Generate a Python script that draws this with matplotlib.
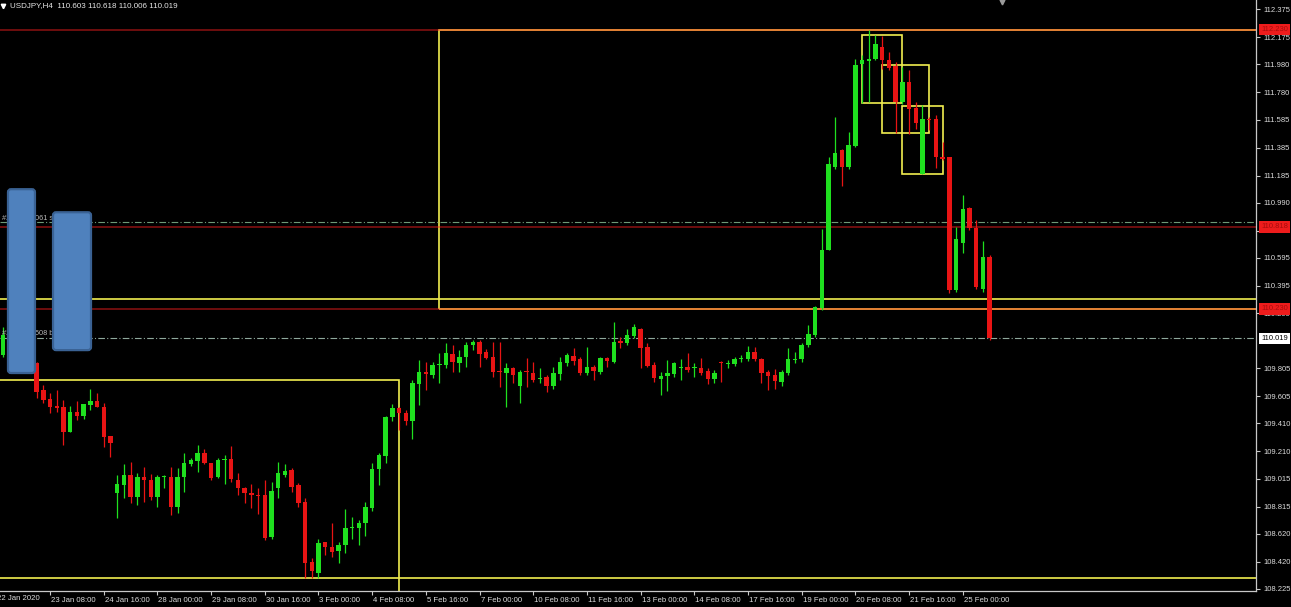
import numpy as np
import matplotlib.pyplot as plt
from matplotlib.patches import Rectangle, FancyBboxPatch
from matplotlib.transforms import blended_transform_factory, ScaledTranslation

plt.rcParams['font.family'] = ['Liberation Sans', 'DejaVu Sans']

# =========================================================
# USDJPY H4 candles (bar 0 = left edge, bar 147 = current bar)
# =========================================================

opens = [
    109.899, 110.043, 110.080, 109.970, 109.940, 109.840, 109.649, 109.582, 109.534, 109.530,
    109.351, 109.494, 109.463, 109.542, 109.573, 109.530, 109.320, 108.910, 108.969, 109.041,
    108.886, 109.029, 109.005, 108.886, 109.024, 109.029, 108.814, 109.024, 109.119, 109.143,
    109.201, 109.129, 109.024, 109.148, 109.153, 109.005, 108.945, 108.914, 108.898, 108.898,
    108.600, 108.945, 109.041, 109.077, 108.969, 108.850, 108.421, 108.337, 108.564, 108.528,
    108.499, 108.540, 108.659, 108.659, 108.700, 108.802, 109.081, 109.177, 109.458, 109.518,
    109.487, 109.430, 109.692, 109.780, 109.756, 109.828, 109.828, 109.907, 109.845, 109.883,
    109.971, 109.995, 109.923, 109.883, 109.780, 109.768, 109.804, 109.678, 109.785, 109.773,
    109.728, 109.740, 109.678, 109.763, 109.840, 109.892, 109.868, 109.773, 109.811, 109.780,
    109.876, 109.852, 110.002, 109.983, 110.035, 110.083, 109.954, 109.828, 109.725, 109.749,
    109.763, 109.804, 109.816, 109.804, 109.804, 109.785, 109.725, 109.845, 109.835, 109.835,
    109.868, 109.868, 109.923, 109.868, 109.780, 109.756, 109.709, 109.768, 109.864, 109.868,
    109.971, 110.042, 110.233, 110.651, 111.247, 111.366, 111.247, 111.395, 111.981, 112.005,
    112.022, 112.105, 112.015, 111.967, 111.712, 111.855, 111.671, 111.199, 111.590, 111.586,
    111.318, 111.314, 110.365, 110.703, 110.949, 110.806, 110.376, 110.603,
]
highs = [
    110.100, 110.120, 110.100, 110.020, 109.960, 109.852, 109.685, 109.625, 109.649, 109.577,
    109.534, 109.573, 109.549, 109.654, 109.630, 109.558, 109.320, 109.041, 109.119, 109.136,
    109.058, 109.096, 109.048, 109.041, 109.041, 109.096, 109.088, 109.196, 109.165, 109.255,
    109.224, 109.129, 109.160, 109.184, 109.248, 109.053, 108.957, 108.976, 108.945, 109.005,
    108.993, 109.136, 109.119, 109.088, 108.986, 108.874, 108.445, 108.580, 108.564, 108.695,
    108.564, 108.795, 108.743, 108.719, 108.850, 109.129, 109.196, 109.463, 109.549, 109.530,
    109.506, 109.720, 109.864, 109.852, 109.852, 109.911, 109.983, 109.971, 109.935, 109.995,
    110.011, 110.011, 109.940, 109.995, 109.995, 109.840, 109.816, 109.792, 109.876, 109.852,
    109.804, 109.756, 109.816, 109.887, 109.916, 109.947, 109.887, 109.959, 109.828, 109.887,
    109.887, 110.138, 110.031, 110.083, 110.121, 110.090, 109.988, 109.852, 109.780, 109.864,
    109.852, 109.868, 109.916, 109.840, 109.876, 109.804, 109.792, 109.859, 109.864, 109.887,
    109.899, 109.964, 109.954, 109.876, 109.792, 109.797, 109.792, 109.947, 109.923, 109.983,
    110.114, 110.250, 110.799, 111.318, 111.605, 111.378, 111.497, 112.022, 112.046, 112.230,
    112.189, 112.182, 112.070, 111.998, 111.962, 111.943, 111.712, 111.688, 111.605, 111.617,
    111.426, 111.318, 110.818, 111.044, 110.961, 110.865, 110.718, 110.618,
]
lows = [
    109.885, 110.000, 109.950, 109.900, 109.840, 109.589, 109.554, 109.487, 109.494, 109.255,
    109.351, 109.434, 109.439, 109.506, 109.525, 109.244, 109.172, 108.731, 108.874, 108.838,
    108.826, 108.850, 108.862, 108.814, 108.945, 108.755, 108.771, 108.922, 109.105, 109.065,
    109.119, 109.005, 109.017, 108.976, 108.993, 108.898, 108.838, 108.802, 108.762, 108.576,
    108.580, 108.874, 109.024, 108.922, 108.814, 108.301, 108.301, 108.301, 108.468, 108.456,
    108.409, 108.480, 108.580, 108.540, 108.604, 108.786, 108.969, 109.124, 109.430, 109.363,
    109.399, 109.296, 109.542, 109.649, 109.732, 109.697, 109.804, 109.780, 109.780, 109.816,
    109.935, 109.811, 109.868, 109.744, 109.668, 109.530, 109.697, 109.554, 109.673, 109.709,
    109.697, 109.637, 109.654, 109.721, 109.821, 109.828, 109.756, 109.756, 109.721, 109.763,
    109.816, 109.840, 109.947, 109.971, 110.019, 109.804, 109.811, 109.709, 109.613, 109.644,
    109.744, 109.721, 109.780, 109.744, 109.756, 109.692, 109.697, 109.709, 109.804, 109.821,
    109.852, 109.859, 109.859, 109.697, 109.649, 109.654, 109.678, 109.756, 109.840, 109.852,
    109.959, 110.031, 110.221, 110.651, 111.235, 111.109, 111.235, 111.390, 111.705, 111.712,
    112.010, 111.950, 111.939, 111.490, 111.700, 111.485, 111.521, 111.194, 111.509, 111.242,
    111.295, 110.341, 110.353, 110.627, 110.794, 110.376, 110.353, 110.006,
]
closes = [
    110.043, 110.080, 109.970, 109.940, 109.860, 109.637, 109.577, 109.525, 109.518, 109.351,
    109.494, 109.463, 109.549, 109.573, 109.530, 109.315, 109.272, 108.976, 109.041, 108.886,
    109.029, 109.005, 108.886, 109.029, 109.029, 108.814, 109.029, 109.124, 109.148, 109.196,
    109.124, 109.017, 109.148, 109.153, 109.010, 108.945, 108.914, 108.898, 108.893, 108.588,
    108.929, 109.053, 109.072, 108.957, 108.838, 108.413, 108.356, 108.557, 108.528, 108.492,
    108.540, 108.659, 108.666, 108.700, 108.814, 109.081, 109.184, 109.458, 109.518, 109.482,
    109.430, 109.697, 109.780, 109.763, 109.828, 109.835, 109.916, 109.852, 109.883, 109.971,
    109.995, 109.907, 109.876, 109.780, 109.775, 109.804, 109.756, 109.780, 109.775, 109.721,
    109.737, 109.678, 109.773, 109.852, 109.899, 109.859, 109.773, 109.816, 109.785, 109.876,
    109.859, 109.995, 109.983, 110.042, 110.102, 109.947, 109.821, 109.732, 109.751, 109.773,
    109.840, 109.811, 109.792, 109.811, 109.768, 109.725, 109.773, 109.840, 109.845, 109.868,
    109.876, 109.923, 109.868, 109.768, 109.749, 109.716, 109.780, 109.868, 109.868, 109.971,
    110.050, 110.241, 110.655, 111.266, 111.347, 111.247, 111.402, 111.974, 112.010, 112.022,
    112.125, 112.010, 111.958, 111.712, 111.855, 111.664, 111.562, 111.593, 111.581, 111.314,
    111.306, 110.365, 110.727, 110.942, 110.806, 110.384, 110.603, 110.019,
]

symbol = "USDJPY,H4"
last_bar = [110.603, 110.618, 110.006, 110.019]

# time axis: one label every 8 bars
time_tick_bars = [7, 15, 23, 31, 39, 47, 55, 63, 71, 79, 87, 95, 103, 111, 119, 127, 135, 143]
time_tick_labels = [
    "23 Jan 08:00", "24 Jan 16:00", "28 Jan 00:00", "29 Jan 08:00", "30 Jan 16:00",
    "3 Feb 00:00", "4 Feb 08:00", "5 Feb 16:00", "7 Feb 00:00", "10 Feb 08:00",
    "11 Feb 16:00", "13 Feb 00:00", "14 Feb 08:00", "17 Feb 16:00", "19 Feb 00:00",
    "20 Feb 08:00", "21 Feb 16:00", "25 Feb 00:00",
]
first_time_label = "22 Jan 2020"   # sits at bar -1, cut by the left edge

price_ticks = [112.375, 112.175, 111.980, 111.780, 111.585, 111.385, 111.185, 110.990,
               110.790, 110.595, 110.395, 110.200, 109.805, 109.605, 109.410, 109.210,
               109.015, 108.815, 108.620, 108.420, 108.225]

# horizontal objects
red_levels = [112.230, 110.818, 110.230]
yellow_levels = [110.300, 108.304]
order_level = 110.850
bid_price = 110.019

# yellow rectangles: bar from, bar to, low price, high price
zone_rects = [
    (65, 220, 110.230, 112.230),
    (-5, 59, 107.900, 109.720),
    (128, 134, 111.705, 112.189),
    (131, 138, 111.490, 111.974),
    (134, 140, 111.194, 111.681),
]

# blue marker boxes covering the trade labels
blue_boxes = [
    (0.73, 4.75, 109.771, 111.087),
    (7.44, 13.10, 109.935, 110.922),
]

order_labels = [("#2760418061 sell 0.01", 110.880), ("#2760418508 buy 0.01", 110.052)]

# =========================================================
# Figure
# =========================================================

W, H = 1291, 607
fig = plt.figure(figsize=(W / 100, H / 100), dpi=100, facecolor='black')
ax = fig.add_axes([0, 16 / H, 1256 / W, 591 / H])
ax.set_facecolor('black')
ax.set_xlim(-0.46, 186.7)
ax.set_ylim(108.2105, 112.4415)

bull = '#1fe01f'
bear = '#e81414'
yellow = '#f2ee50'
axis_col = '#c8c8c8'

# rectangles and lines
for b0, b1, lo, hi in zone_rects:
    ax.add_patch(Rectangle((b0, lo), b1 - b0, hi - lo, fill=False,
                           edgecolor=yellow, linewidth=1.2, zorder=1))
for lvl in yellow_levels:
    ax.axhline(lvl, color=yellow, linewidth=1.2, zorder=1)
for lvl in red_levels:
    ax.axhline(lvl, color='#ff2020', alpha=0.55, linewidth=1.1, zorder=1.5)

ax.axhline(order_level, color='#6f9a78', linewidth=0.8, dashes=(6, 2, 1, 2), zorder=1.5)
ax.axhline(bid_price, color='#8fa89c', linewidth=0.8, dashes=(6, 2, 1, 2), zorder=1.5)

# candles
o = np.array(opens)
h = np.array(highs)
l = np.array(lows)
c = np.array(closes)
x = np.arange(len(o))
cols = np.where(c >= o, bull, bear)

ax.vlines(x, l, h, colors=cols, linewidth=0.9, zorder=3)
body_lo = np.minimum(o, c)
body_h = np.maximum(np.abs(c - o), 0.008)
ax.bar(x, body_h, bottom=body_lo, width=0.66, color=cols, linewidth=0, zorder=3)

# trade labels and the boxes over them
for txt, lvl in order_labels:
    ax.text(-0.16, lvl, txt, fontsize=5.3, color='#b8b8b8', va='center', ha='left', zorder=4)

for b0, b1, lo, hi in blue_boxes:
    ax.add_patch(FancyBboxPatch((b0, lo), b1 - b0, hi - lo,
                                boxstyle="round,pad=0,rounding_size=0.45",
                                mutation_aspect=0.048,
                                facecolor='#4f81bd', edgecolor='#3a6294',
                                linewidth=1.6, zorder=10))

# header
ax.plot([3 / 1256], [1 - 6 / 591], marker='v', markersize=3.2, color='white',
        transform=ax.transAxes, clip_on=False, zorder=12)
ax.text(10 / 1256, 1 - 6 / 591,
        f"{symbol}  " + " ".join(f"{v:.3f}" for v in last_bar),
        transform=ax.transAxes, fontsize=5.8, color='#e6e6e6', va='center', ha='left')
ax.plot([1002 / 1256], [1 - 2 / 591], marker='v', markersize=3.5, color='#9a9a9a',
        transform=ax.transAxes, clip_on=False, zorder=12)

# axes styling
for side in ['top', 'left']:
    ax.spines[side].set_visible(False)
for side in ['right', 'bottom']:
    ax.spines[side].set_color(axis_col)
    ax.spines[side].set_linewidth(0.9)

ax.yaxis.tick_right()
ax.set_yticks(price_ticks)
ax.set_yticklabels([f"{v:.3f}" for v in price_ticks])
ax.tick_params(axis='y', colors=axis_col, labelcolor='#dcdcdc', length=3, width=0.8,
               pad=2.5, labelsize=5.5)

ax.set_xticks(time_tick_bars)
ax.set_xticklabels(time_tick_labels)
ax.tick_params(axis='x', colors=axis_col, labelcolor='#dcdcdc', length=3, width=0.8,
               pad=1.5, labelsize=5.6)
shift = ScaledTranslation(1 / 100, 0, fig.dpi_scale_trans)
for lbl in ax.get_xticklabels():
    lbl.set_horizontalalignment('left')
    lbl.set_transform(lbl.get_transform() + shift)

xtrans = blended_transform_factory(ax.transData, ax.transAxes)
ax.text(-1 + 0.15, -4.5 / 591, first_time_label, transform=xtrans, fontsize=5.6,
        color='#dcdcdc', va='top', ha='left', clip_on=False)

# price boxes on the right axis
ytrans = blended_transform_factory(ax.transAxes, ax.transData)
for lvl in red_levels:
    ax.text(1 + 5 / 1256, lvl, f"{lvl:.3f}", transform=ytrans, fontsize=5.5,
            color='#a80c0c', va='center', ha='left', clip_on=False, zorder=20,
            bbox=dict(boxstyle='square,pad=0.3', facecolor='#ee1c1c', edgecolor='none'))
ax.text(1 + 5 / 1256, bid_price, f"{bid_price:.3f}", transform=ytrans, fontsize=5.5,
        color='black', va='center', ha='left', clip_on=False, zorder=20,
        bbox=dict(boxstyle='square,pad=0.3', facecolor='white', edgecolor='none'))

plt.savefig("out.png", dpi=100, facecolor='black')
